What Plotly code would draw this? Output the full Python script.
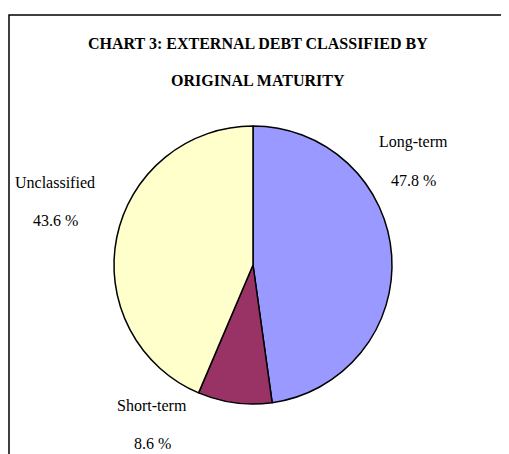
import plotly.graph_objects as go

categories = ["Long-term", "Short-term", "Unclassified"]
values = [47.8, 8.6, 43.6]
colors = ["#9999FF", "#993366", "#FFFFCC"]
title_lines = ["CHART 3: EXTERNAL DEBT CLASSIFIED BY", "ORIGINAL MATURITY"]

# the page body adds an 8px margin; figure is sized to fill the rest of the window
OFF = 8
W, H = 509 - OFF, 454 - OFF


def px(x):
    return (x - OFF) / W


def py(y):
    return 1 - (y - OFF) / H


cx, cy, r = 253, 265, 139

fig = go.Figure(go.Pie(
    labels=categories, values=values, sort=False, direction="clockwise", rotation=0,
    marker=dict(colors=colors, line=dict(color="black", width=1.5)),
    textinfo="none", hoverinfo="label+percent", showlegend=False,
    domain=dict(x=[px(cx - r), px(cx + r)], y=[py(cy + r), py(cy - r)]),
))

label_pos = {"Long-term": (413, 142, 180), "Short-term": (152, 405, 443), "Unclassified": (55, 182, 220)}
font = dict(family="Liberation Serif, Times New Roman, serif", size=16, color="black")
anns = []
for cat, val in zip(categories, values):
    x, y1, y2 = label_pos[cat]
    anns.append(dict(x=px(x), y=py(y1), xref="paper", yref="paper", text=cat, showarrow=False,
                     font=font, xanchor="center", yanchor="middle"))
    anns.append(dict(x=px(x), y=py(y2), xref="paper", yref="paper", text=f"{val:.1f} %", showarrow=False,
                     font=font, xanchor="center", yanchor="middle"))
for t, yy in zip(title_lines, [43, 80]):
    anns.append(dict(x=px(258), y=py(yy), xref="paper", yref="paper", text=f"<b>{t}</b>", showarrow=False,
                     font=dict(family="Liberation Serif, Times New Roman, serif", size=16, color="black"),
                     xanchor="center", yanchor="middle"))

fig.update_layout(
    width=W, height=H, margin=dict(l=0, r=0, t=0, b=0),
    paper_bgcolor="white", plot_bgcolor="white",
    annotations=anns,
    shapes=[dict(type="rect", xref="paper", yref="paper", x0=px(9), x1=px(508), y0=-0.2, y1=py(15),
                 line=dict(color="black", width=1.5))],
)
fig.write_html("out.html")
